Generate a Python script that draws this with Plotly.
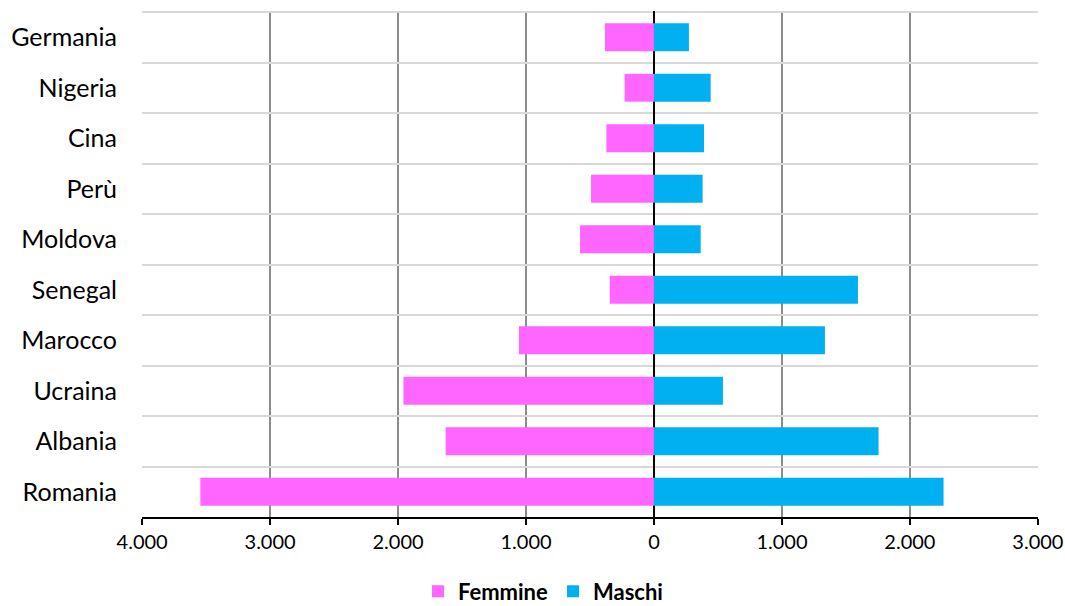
import plotly.graph_objects as go

# Paesi, dall'alto verso il basso
paesi = ["Germania", "Nigeria", "Cina", "Perù", "Moldova",
         "Senegal", "Marocco", "Ucraina", "Albania", "Romania"]

femmine = [383, 229, 372, 492, 578, 346, 1055, 1958, 1628, 3545]
maschi = [273, 443, 391, 380, 365, 1594, 1336, 539, 1755, 2263]

tick_valori = [-4000, -3000, -2000, -1000, 0, 1000, 2000, 3000]
tick_testi = ["4.000", "3.000", "2.000", "1.000", "0", "1.000", "2.000", "3.000"]

FONT = "Lato, 'Open Sans', sans-serif"

fig = go.Figure()
fig.add_trace(go.Bar(
    y=paesi, x=[-v for v in femmine], orientation="h", name="Femmine",
    marker=dict(color="#FF66FF", line=dict(width=0)), width=0.55,
    customdata=femmine, hovertemplate="%{y}: %{customdata}<extra>Femmine</extra>",
))
fig.add_trace(go.Bar(
    y=paesi, x=maschi, orientation="h", name="Maschi",
    marker=dict(color="#00B0F0", line=dict(width=0)), width=0.55,
    hovertemplate="%{y}: %{x}<extra>Maschi</extra>",
))

fig.update_layout(
    width=1065, height=606,
    barmode="relative",
    paper_bgcolor="white", plot_bgcolor="white",
    margin=dict(l=142, r=27, t=11, b=89, autoexpand=False),
    font=dict(family=FONT, color="#000000"),
    legend=dict(
        orientation="h", x=0.308, xanchor="left",
        yref="container", y=0.024, yanchor="middle",
        font=dict(family=FONT, size=22, color="#000000", weight="bold"),
        itemwidth=30, traceorder="normal",
    ),
    showlegend=True,
)

fig.update_xaxes(
    range=[-4001, 3001],
    tickvals=tick_valori, ticktext=tick_testi,
    tickfont=dict(size=20, color="#000000"),
    showgrid=True, gridcolor="#8C8C8C", gridwidth=1.5,
    zeroline=True, zerolinecolor="#000000", zerolinewidth=2,
    showline=True, linecolor="#000000", linewidth=1.5,
    ticks="outside", ticklen=6, tickcolor="#000000", tickwidth=1.5,
    automargin=False, fixedrange=True,
)

fig.update_yaxes(
    type="category", categoryorder="array", categoryarray=paesi,
    range=[len(paesi) - 0.5, -0.52],
    tickson="boundaries",
    showgrid=True, gridcolor="#D9D9D9", gridwidth=2,
    ticks="", ticklabelstandoff=24,
    tickfont=dict(size=25, color="#000000"),
    showline=False, zeroline=False,
    automargin=False, fixedrange=True,
)

fig.write_html("out.html")
